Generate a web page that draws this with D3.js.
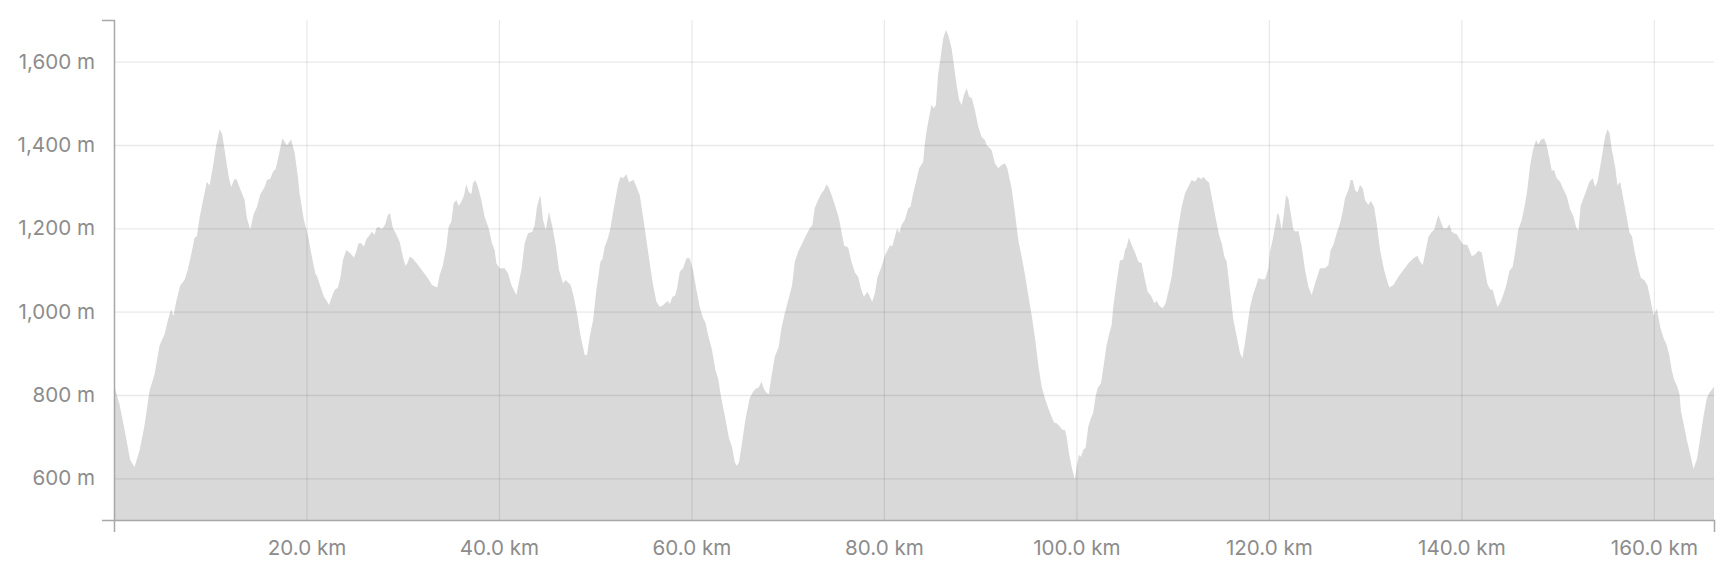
<!DOCTYPE html>
<html>
<head>
<meta charset="utf-8">
<script src="https://cdn.jsdelivr.net/npm/d3@7"></script>
<style>
  html, body { margin: 0; padding: 0; background: #fff; }
  svg { display: block; }
  .axis text { font-family: Inter, "Noto Sans", sans-serif; font-size: 20.6px; fill: #8c8c8c; }
</style>
</head>
<body>
<svg id="chart" width="1734" height="570"></svg>
<script>
// Distance along the route (km)
const distanceKm = [
  0,0.55,1.09,1.68,2.13,2.65,3.17,3.69,4.21,4.73,5.25,5.6,5.94,6.18,6.46,6.88,7.33,7.68,8.02,8.37,8.61,8.89,9.3,9.65,9.93,10.27,10.62,10.97,11.25,11.59,11.94,12.18,12.53,12.77,13.12,13.57,13.81,14.16,14.5,14.85,15.2,15.65,15.89,16.24,16.52,16.79,17.14,17.49,17.73,17.97,18.39,18.77,19.12,
  19.28,19.73,20.15,20.56,20.91,21.12,21.46,21.81,22.05,22.33,22.64,22.92,23.27,23.54,23.79,24.13,24.48,24.93,25.17,25.41,25.69,25.97,26.21,26.56,26.8,27.08,27.25,27.49,27.84,28.19,28.46,28.67,28.98,29.33,29.68,30.02,30.27,30.48,30.72,31.07,31.59,32.11,32.62,33.04,33.59,33.84,34.18,34.53,34.77,35.05,35.29,35.57,35.81,36.09,36.36,36.61,36.85,37.13,37.3,37.54,37.82,38.17,38.51,38.93,39.27,39.55,
  39.73,40.07,40.59,40.94,41.29,41.81,42.08,42.33,42.67,43.02,43.47,43.71,43.95,44.3,44.58,44.86,45.2,45.55,45.9,46.24,46.66,46.93,47.45,47.77,48.11,48.46,48.91,49.15,49.43,49.78,50.12,50.54,50.75,50.99,51.34,51.58,51.93,52.38,52.62,52.9,53.24,53.52,53.76,54.0,54.28,54.63,54.97,55.32,55.67,56.01,56.36,56.71,56.98,57.33,57.57,57.75,58.02,58.3,58.51,58.79,59.13,59.48,59.82,
  60.17,60.52,60.86,61.21,61.45,61.73,62.14,62.49,62.76,63.1,63.52,63.9,64.21,64.49,64.7,64.94,65.25,65.6,66.05,66.4,66.75,66.99,67.27,67.54,67.79,68.03,68.31,68.66,69.07,69.35,69.7,70.11,70.46,70.74,71.08,71.43,71.84,72.29,72.57,72.81,73.16,73.51,73.78,74.03,74.27,74.62,74.96,75.31,75.59,75.87,76.28,76.63,76.98,77.32,77.6,77.91,78.29,78.54,78.78,79.06,79.34,79.75,
  80.1,80.61,80.89,81.13,81.38,81.58,81.83,82.17,82.52,82.76,83.04,83.38,83.66,84.08,84.25,84.42,84.7,84.94,85.19,85.4,85.64,85.88,86.16,86.44,86.68,87.03,87.27,87.55,87.82,88.07,88.31,88.59,88.86,89.14,89.45,89.8,90.15,90.49,90.67,91.19,91.53,91.88,92.23,92.57,92.82,93.27,93.62,93.96,94.31,94.66,95.0,95.35,95.7,96.04,96.39,96.73,97.08,97.42,97.67,97.95,98.29,98.57,98.81,98.98,99.26,99.5,99.84,
  100.02,100.26,100.47,100.71,100.96,101.23,101.51,101.75,101.99,102.2,102.55,102.79,103.14,103.38,103.66,103.83,104.18,104.52,104.87,105.05,105.22,105.46,105.74,106.09,106.43,106.78,107.13,107.4,107.75,108.1,108.34,108.62,108.96,109.27,109.55,109.9,110.25,110.59,110.94,111.29,111.63,111.98,112.32,112.67,112.95,113.19,113.54,113.78,114.06,114.41,114.82,115.1,115.38,115.62,115.97,116.31,116.66,117.0,117.25,117.53,117.8,118.05,118.39,118.64,118.91,119.26,119.6,119.95,
  120.11,120.39,120.64,120.88,121.05,121.33,121.57,121.78,122.02,122.27,122.55,122.82,123.06,123.41,123.76,124.1,124.45,124.8,125.31,125.83,126.18,126.42,126.7,127.04,127.39,127.67,127.91,128.26,128.5,128.71,128.95,129.2,129.47,129.75,129.99,130.34,130.58,130.93,131.2,131.55,131.97,132.32,132.52,132.94,133.46,133.98,134.5,135.02,135.44,135.71,135.99,136.23,136.58,136.93,137.17,137.45,137.62,137.86,138.14,138.49,138.76,139.0,139.25,139.52,139.87,140.15,140.63,
  141.08,141.42,141.77,142.12,142.46,142.7,142.98,143.26,143.74,144.09,144.43,144.71,144.99,145.33,145.58,145.92,146.27,146.62,146.86,147.14,147.42,147.76,148.0,148.25,148.6,148.87,149.15,149.39,149.63,149.91,150.26,150.6,150.95,151.3,151.64,151.92,152.16,152.4,152.68,153.03,153.31,153.65,153.9,154.14,154.42,154.7,154.94,155.18,155.39,155.63,155.98,156.22,156.5,156.78,157.13,157.47,157.72,158.06,158.41,158.65,159.0,159.34,159.62,159.97,160.31,160.66,161.01,161.35,161.63,161.87,162.12,162.39,162.67,162.81,163.08,163.43,163.78,164.12,164.47,164.82,165.16,165.51,165.79,166.25
];

// Elevation (m) at each distance
const elevationM = [
  823,780,718,644,627,666,727,810,849,919,945,980,1006,989,1024,1063,1076,1102,1137,1177,1181,1225,1273,1312,1303,1347,1399,1438,1425,1373,1321,1299,1319,1316,1294,1268,1225,1197,1233,1251,1281,1299,1316,1319,1336,1342,1377,1416,1408,1399,1414,1382,1321,
  1284,1220,1184,1132,1092,1084,1060,1036,1028,1016,1036,1052,1058,1084,1124,1148,1142,1130,1144,1164,1164,1156,1174,1184,1192,1184,1200,1204,1198,1210,1232,1236,1200,1186,1168,1132,1110,1116,1132,1127,1112,1096,1080,1064,1058,1088,1112,1156,1204,1216,1260,1268,1254,1264,1278,1306,1288,1282,1308,1316,1300,1268,1228,1200,1164,1148,
  1116,1104,1104,1092,1064,1040,1072,1100,1164,1188,1192,1208,1252,1280,1220,1196,1240,1204,1160,1100,1068,1076,1064,1036,996,944,896,896,940,980,1052,1120,1126,1156,1178,1200,1248,1306,1324,1320,1330,1310,1314,1316,1300,1280,1228,1172,1116,1064,1024,1012,1014,1022,1026,1018,1036,1038,1056,1096,1104,1128,1128,
  1100,1052,1012,984,974,944,908,860,840,792,744,696,676,640,630,638,684,740,792,808,816,818,832,814,806,802,844,892,916,960,996,1032,1064,1120,1144,1160,1180,1200,1208,1248,1268,1284,1292,1306,1298,1276,1252,1226,1192,1158,1154,1120,1094,1084,1056,1036,1048,1036,1024,1044,1084,1108,
  1135,1158,1158,1180,1200,1188,1208,1220,1248,1252,1284,1316,1344,1360,1404,1432,1468,1496,1488,1496,1572,1608,1656,1676,1664,1632,1592,1544,1508,1496,1520,1536,1516,1512,1484,1444,1420,1412,1400,1388,1356,1344,1352,1356,1344,1296,1236,1172,1132,1088,1040,992,936,872,820,792,768,748,734,732,724,716,716,700,656,628,597,
  628,656,652,668,674,724,744,758,796,816,828,864,920,944,968,1012,1072,1122,1126,1148,1156,1178,1160,1142,1120,1116,1076,1048,1038,1020,1026,1014,1008,1020,1048,1084,1148,1204,1252,1284,1300,1316,1312,1324,1318,1324,1314,1310,1276,1232,1184,1164,1132,1120,1048,980,940,900,888,928,972,1012,1044,1060,1080,1078,1078,1104,
  1144,1172,1204,1236,1232,1196,1236,1280,1272,1236,1196,1192,1194,1156,1100,1060,1040,1068,1104,1104,1112,1148,1160,1188,1212,1240,1272,1292,1316,1316,1292,1286,1304,1296,1268,1256,1266,1252,1212,1148,1100,1072,1058,1064,1084,1100,1116,1128,1134,1120,1112,1140,1180,1192,1196,1220,1232,1216,1200,1200,1210,1192,1188,1186,1172,1162,1160,
  1133,1137,1146,1142,1098,1067,1054,1052,1011,1024,1046,1067,1098,1107,1142,1198,1220,1259,1294,1351,1386,1412,1401,1412,1416,1399,1368,1338,1340,1320,1312,1294,1277,1246,1229,1203,1194,1255,1272,1294,1312,1320,1299,1312,1347,1386,1421,1438,1429,1390,1347,1303,1312,1277,1233,1190,1181,1137,1102,1081,1076,1063,1033,991,1007,963,937,919,893,858,836,823,802,762,732,692,658,623,645,697,749,793,806,820
];

// Axis ticks
const elevationTicks = [600, 800, 1000, 1200, 1400, 1600];
const distanceTicks = [20, 40, 60, 80, 100, 120, 140, 160];
const elevationDomain = [500, 1700];

const profile = distanceKm.map((d, i) => ({ km: d, ele: elevationM[i] }));

const svg = d3.select("#chart");
const plotLeft = 114, plotRight = 1714, plotTop = 20, plotBottom = 520;

const x = d3.scaleLinear().domain([0, d3.max(distanceKm)]).range([plotLeft, plotRight]);
const y = d3.scaleLinear().domain(elevationDomain).range([plotBottom, plotTop]);

// Area
const area = d3.area()
  .x(d => x(d.km))
  .y0(y(elevationDomain[0]))
  .y1(d => y(d.ele))
  .curve(d3.curveLinear);

svg.append("path")
  .datum(profile)
  .attr("d", area)
  .attr("fill", "#d9d9d9");

// Gridlines (drawn on top, translucent)
const gridY = svg.append("g")
  .attr("transform", `translate(${plotLeft},0)`)
  .call(d3.axisLeft(y).tickValues(elevationTicks).tickSize(-(plotRight - plotLeft)).tickFormat(""));
gridY.select(".domain").remove();
gridY.selectAll("line").attr("stroke", "rgba(0,0,0,0.085)").attr("stroke-width", 1.3);

const gridX = svg.append("g")
  .attr("transform", `translate(0,${plotBottom})`)
  .call(d3.axisBottom(x).tickValues(distanceTicks).tickSize(-(plotBottom - plotTop)).tickFormat(""));
gridX.select(".domain").remove();
gridX.selectAll("line").attr("stroke", "rgba(0,0,0,0.085)").attr("stroke-width", 1.3);

// Y axis
const yAxis = svg.append("g")
  .attr("class", "axis")
  .attr("transform", `translate(${plotLeft},0)`)
  .call(d3.axisLeft(y)
    .tickValues(elevationTicks)
    .tickSizeInner(0)
    .tickSizeOuter(12)
    .tickPadding(19)
    .tickFormat(d => d3.format(",")(d) + " m"));
yAxis.selectAll(".tick line").remove();
yAxis.select(".domain").attr("stroke", "#a8a8a8").attr("stroke-width", 1.5);
yAxis.attr("font-family", null).attr("font-size", null);

// X axis
const xAxis = svg.append("g")
  .attr("class", "axis")
  .attr("transform", `translate(0,${plotBottom})`)
  .call(d3.axisBottom(x)
    .tickValues(distanceTicks)
    .tickSizeInner(0)
    .tickSizeOuter(12)
    .tickPadding(20)
    .tickFormat(d => d3.format(".1f")(d) + " km"));
xAxis.selectAll(".tick line").remove();
xAxis.select(".domain").attr("stroke", "#a8a8a8").attr("stroke-width", 1.5);
xAxis.attr("font-family", null).attr("font-size", null);
</script>
</body>
</html>
